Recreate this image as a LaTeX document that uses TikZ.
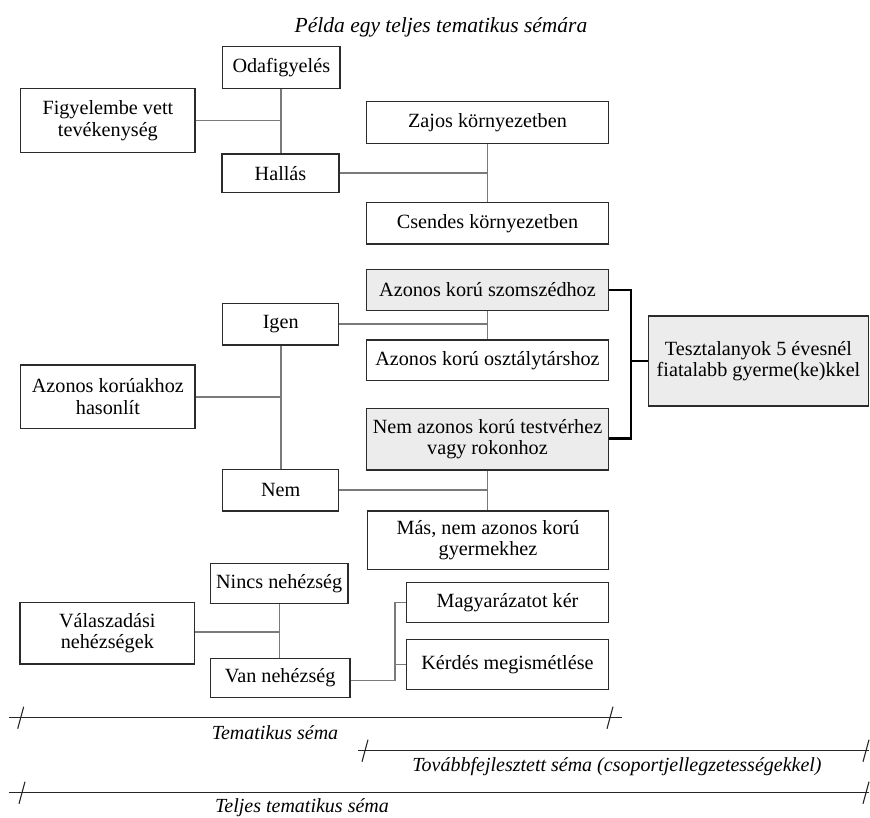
\documentclass[tikz,border=0pt]{standalone}
\usepackage{fontspec}
\setmainfont{Liberation Serif}
\definecolor{boxline}{HTML}{2B2B2B}
\definecolor{conn}{HTML}{7A7A7A}
\definecolor{shade}{HTML}{ECECEC}
\tikzset{
  box/.style={draw=boxline, line width=1.3pt, rectangle, inner sep=0pt, align=center,
    font=\fontsize{20.2}{21.5}\selectfont},
  shadedbox/.style={box, fill=shade},
  link/.style={draw=conn, line width=1.8pt},
  bracketline/.style={draw=black, line width=2.4pt},
  dimline/.style={draw=black!85, line width=1.1pt},
  dimlabel/.style={font=\fontsize{20}{21.5}\selectfont\itshape, inner sep=0pt},
  titlelabel/.style={font=\fontsize{21.5}{23}\selectfont\itshape, inner sep=0pt},
}
\begin{document}
\begin{tikzpicture}[x=1pt, y=-1pt]
\useasboundingbox (0,0) rectangle (870,818);

% title
\node[titlelabel] (title) at (441,27.5) {Példa egy teljes tematikus sémára};

% top group
\node[box, minimum width=117.3pt, minimum height=41.6pt] (oda) at (281.3,67.5) {Odafigyelés};
\node[box, minimum width=174.3pt, minimum height=64.4pt] (figy) at (107.9,120.5) {Figyelembe vett\\tevékenység};
\node[box, minimum width=117pt, minimum height=38.5pt] (hallas) at (280.5,173.3) {Hallás};
\node[box, minimum width=241.6pt, minimum height=41.6pt] (zajos) at (487.5,122.5) {Zajos környezetben};
\node[box, minimum width=241.6pt, minimum height=41.7pt] (csendes) at (487.5,223.2) {Csendes környezetben};

% middle group
\node[shadedbox, minimum width=241.6pt, minimum height=41.4pt] (szomszed) at (487.5,290) {Azonos korú szomszédhoz};
\node[box, minimum width=241.6pt, minimum height=40.7pt] (osztaly) at (487.5,360.3) {Azonos korú osztálytárshoz};
\node[shadedbox, minimum width=241.6pt, minimum height=61.7pt] (nemaz) at (487.5,439.2) {Nem azonos korú testvérhez\\vagy rokonhoz};
\node[box, minimum width=241.6pt, minimum height=58.3pt] (mas) at (488,540.2) {Más, nem azonos korú\\gyermekhez};
\node[shadedbox, minimum width=220.4pt, minimum height=90pt] (teszt) at (758.5,361) {Tesztalanyok 5 évesnél\\fiatalabb gyerme(ke)kkel};
\node[box, minimum width=116pt, minimum height=41.7pt] (igen) at (280.7,324.2) {Igen};
\node[box, minimum width=116pt, minimum height=41.7pt] (nem) at (280.7,490.2) {Nem};
\node[box, minimum width=174.3pt, minimum height=63.3pt] (azkor) at (107.9,396.7) {Azonos korúakhoz\\hasonlít};

% bottom group
\node[box, minimum width=137.7pt, minimum height=40pt] (nincs) at (279.2,583.3) {Nincs nehézség};
\node[box, minimum width=139.7pt, minimum height=39pt] (van) at (280.2,677.8) {Van nehézség};
\node[box, minimum width=174.7pt, minimum height=61.3pt] (valasz) at (107.3,633.3) {Válaszadási\\nehézségek};
\node[box, minimum width=201.6pt, minimum height=40pt] (magy) at (507.5,602.7) {Magyarázatot kér};
\node[box, minimum width=201.6pt, minimum height=50pt] (kerdes) at (507.5,664.3) {Kérdés megismétlése};

% connectors top
\draw[link] (oda.south) -- (hallas.north -| oda.south);
\coordinate (j1) at (oda.south |- figy.east);
\draw[link] (figy.east) -- (j1);
\draw[link] (zajos.south) -- (csendes.north);
\coordinate (j2) at (zajos.south |- hallas.east);
\draw[link] (hallas.east) -- (j2);

% connectors middle
\draw[link] (szomszed.south) -- (osztaly.north);
\coordinate (j3) at (szomszed.south |- igen.east);
\draw[link] (igen.east) -- (j3);
\draw[link] (igen.south) -- (nem.north);
\coordinate (j4) at (igen.south |- azkor.east);
\draw[link] (azkor.east) -- (j4);
\draw[link] (nemaz.south) -- (mas.north -| nemaz.south);
\coordinate (j5) at (nemaz.south |- nem.east);
\draw[link] (nem.east) -- (j5);

% bracket
\coordinate (b1) at (630.7,290);
\coordinate (b2) at (630.7,438.3);
\coordinate (b3) at (630.7,361);
\draw[bracketline] (szomszed.east) -- (b1) -- (b2) -- (nemaz.east |- b2);
\draw[bracketline] (b3) -- (teszt.west);

% connectors bottom
\draw[link] (nincs.south -| 279.5,0) -- (van.north -| 279.5,0);
\coordinate (j6) at (279.5,631.7);
\draw[link] (valasz.east |- j6) -- (j6);
\coordinate (j7) at (395,680.7);
\coordinate (j8) at (395,602.7);
\coordinate (j9) at (395,664.3);
\draw[link, line width=1.5pt] (van.east |- j7) -- (j7) -- (j8) -- (magy.west);
\draw[link, line width=1.5pt] (j9) -- (kerdes.west);

% dimension lines
\coordinate (d1a) at (9,717.7);  \coordinate (d1b) at (622,717.7);
\coordinate (d2a) at (358,750.7); \coordinate (d2b) at (869,750.7);
\coordinate (d3a) at (9,792.7);  \coordinate (d3b) at (869,792.7);
\draw[dimline] (d1a) -- (d1b);
\draw[dimline] (d2a) -- (d2b);
\draw[dimline] (d3a) -- (d3b);
\foreach \tx/\ty in {20.7/717.7, 610/717.7, 365/750.7, 866/750.7, 22/792.7, 866/792.7}{
  \draw[dimline] (\tx-3,\ty+11) -- (\tx+3,\ty-11);
}
\node[dimlabel] (l1) at (275,733) {Tematikus séma};
\node[dimlabel] (l2) at (617,767) {Továbbfejlesztett séma (csoportjellegzetességekkel)};
\node[dimlabel] (l3) at (302,808) {Teljes tematikus séma};
\end{tikzpicture}
\end{document}
